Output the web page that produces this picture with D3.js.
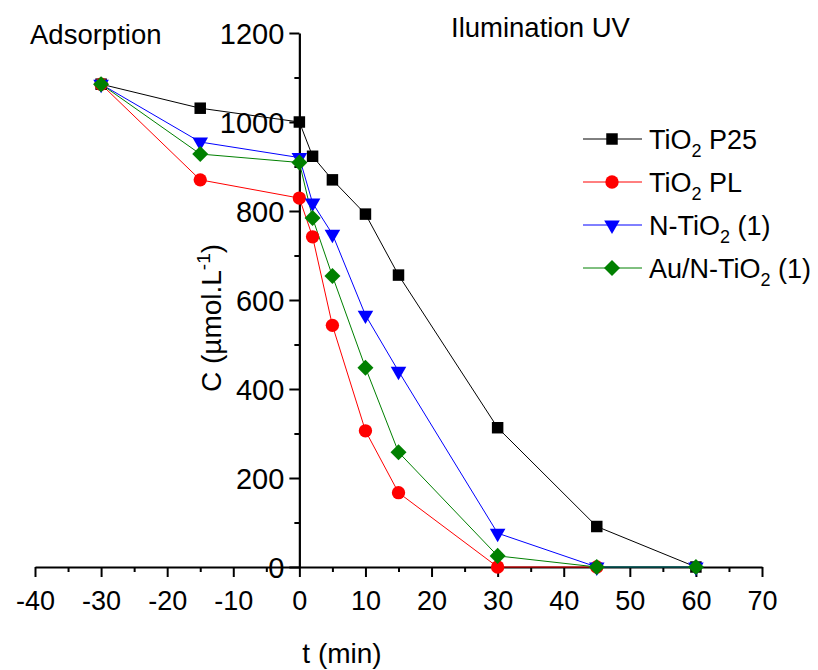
<!DOCTYPE html>
<html>
<head>
<meta charset="utf-8">
<script src="https://cdn.jsdelivr.net/npm/d3@7"></script>
<style>
  html, body { margin: 0; padding: 0; background: #fff; }
  svg text { font-family: "Liberation Sans", Arial, sans-serif; fill: #000; }
</style>
</head>
<body>
<svg id="chart" width="818" height="670"></svg>
<script>
// ---- data ----
const times = [-30, -15, 0, 2, 5, 10, 15, 30, 45, 60];
const p25 = [1085, 1031, 1000, 923, 870, 793, 656, 313, 91, 0];
const pl = [1085, 870, 829, 742, 543, 306, 167, 0, 0, null];
const nTiO2 = [1085, 955, 920, 818, 748, 566, 440, 76, 0, 0];
const auNTiO2 = [1085, 928, 909, 784, 654, 448, 258, 25, 0, 0];
const xTicks = [-40, -30, -20, -10, 0, 10, 20, 30, 40, 50, 60, 70];
const yTicks = [0, 200, 400, 600, 800, 1000, 1200];

const series = [
  { name: ["TiO", "2", " P25"], values: p25, color: "#000000", shape: "square" },
  { name: ["TiO", "2", " PL"], values: pl, color: "#ff0000", shape: "circle" },
  { name: ["N-TiO", "2", " (1)"], values: nTiO2, color: "#0000ff", shape: "triangle" },
  { name: ["Au/N-TiO", "2", " (1)"], values: auNTiO2, color: "#008000", shape: "diamond" }
];

const svg = d3.select("#chart");
const x = d3.scaleLinear().domain([-40, 70]).range([35, 762]);
const y = d3.scaleLinear().domain([0, 1200]).range([567, 33]);
const FONT = '"Liberation Sans", Arial, sans-serif';

function symbolPath(shape) {
  if (shape === "square") return d3.symbol(d3.symbolSquare, 132)();
  if (shape === "circle") return d3.symbol(d3.symbolCircle, 140)();
  if (shape === "triangle") return d3.symbol(d3.symbolTriangle, 105)();
  return d3.symbol(d3.symbolSquare, 128)();
}
function symbolRot(shape) {
  if (shape === "triangle") return 180;
  if (shape === "diamond") return 45;
  return 0;
}

// ---- x axis (at y = 0) ----
const xAxisG = svg.append("g").attr("transform", `translate(0,${y(0)})`);
xAxisG.append("g")
  .call(d3.axisBottom(x).tickValues(d3.range(-35, 70, 10)).tickSize(5).tickFormat(""))
  .call(g => g.select(".domain").remove())
  .call(g => g.selectAll("line").attr("stroke", "#000").attr("stroke-width", 2));
xAxisG.append("g")
  .call(d3.axisBottom(x).tickValues(xTicks).tickSize(10).tickSizeOuter(0).tickPadding(8)
    .tickFormat(d => String(d)))
  .call(g => g.select(".domain").attr("stroke", "#000").attr("stroke-width", 2.2))
  .call(g => g.selectAll("line").attr("stroke", "#000").attr("stroke-width", 2))
  .call(g => g.selectAll("text").attr("font-size", 27).attr("dy", "0.93em")
    .attr("font-family", FONT));

// ---- y axis (at x = 0) ----
const yAxisG = svg.append("g").attr("transform", `translate(${x(0)},0)`);
yAxisG.append("g")
  .call(d3.axisLeft(y).tickValues(d3.range(100, 1200, 200)).tickSize(5).tickFormat(""))
  .call(g => g.select(".domain").remove())
  .call(g => g.selectAll("line").attr("stroke", "#000").attr("stroke-width", 2));
yAxisG.append("g")
  .call(d3.axisLeft(y).tickValues(yTicks).tickSize(10).tickSizeOuter(0).tickPadding(5)
    .tickFormat(d => String(d)))
  .call(g => g.select(".domain").attr("stroke", "#000").attr("stroke-width", 2.2))
  .call(g => g.selectAll("line").attr("stroke", "#000").attr("stroke-width", 2))
  .call(g => g.selectAll("text").attr("font-size", 29).attr("dy", "0.35em")
    .attr("font-family", FONT));

// ---- series ----
const line = d3.line()
  .defined(d => d.v !== null)
  .x(d => x(d.t)).y(d => y(d.v));

series.forEach(s => {
  const pts = times.map((t, i) => ({ t, v: s.values[i] }));
  svg.append("path")
    .datum(pts)
    .attr("fill", "none")
    .attr("stroke", s.color)
    .attr("stroke-width", 1)
    .attr("d", line);
});
series.forEach(s => {
  const pts = times.map((t, i) => ({ t, v: s.values[i] })).filter(d => d.v !== null);
  svg.append("g").selectAll("path")
    .data(pts)
    .join("path")
    .attr("d", symbolPath(s.shape))
    .attr("fill", s.color)
    .attr("transform", d => `translate(${x(d.t)},${y(d.v)}) rotate(${symbolRot(s.shape)})`);
});

// ---- legend ----
const legY = [139, 182, 225, 268];
series.forEach((s, i) => {
  const g = svg.append("g").attr("transform", `translate(0,${legY[i]})`);
  g.append("line").attr("x1", 583).attr("x2", 642).attr("y1", 0).attr("y2", 0)
    .attr("stroke", s.color).attr("stroke-width", 1);
  g.append("path").attr("d", symbolPath(s.shape)).attr("fill", s.color)
    .attr("transform", `translate(612,0) rotate(${symbolRot(s.shape)})`);
  const t = g.append("text").attr("x", 649).attr("y", 10).attr("font-size", 27);
  t.append("tspan").text(s.name[0]);
  t.append("tspan").attr("font-size", 18).attr("dy", 8).text(s.name[1]);
  t.append("tspan").attr("dy", -8).text(s.name[2]);
});

// ---- annotations ----
svg.append("text").attr("x", 30).attr("y", 44).attr("font-size", 27.5).text("Adsorption");
svg.append("text").attr("x", 451).attr("y", 37).attr("font-size", 27.5).text("Ilumination UV");

// ---- axis titles ----
svg.append("text").attr("x", 342).attr("y", 663).attr("text-anchor", "middle")
  .attr("font-size", 28).text("t (min)");

const yl = svg.append("text")
  .attr("transform", "translate(221,318) rotate(-90)")
  .attr("text-anchor", "middle").attr("font-size", 28);
yl.append("tspan").text("C (µmol.L");
yl.append("tspan").attr("font-size", 19).attr("dy", -11).text("-1");
yl.append("tspan").attr("dy", 11).text(")");
</script>
</body>
</html>
